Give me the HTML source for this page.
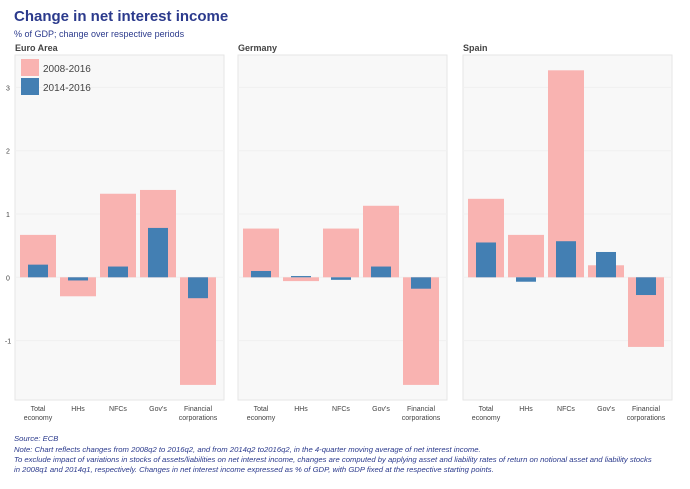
<!DOCTYPE html>
<html><head><meta charset="utf-8"><style>
body{margin:0;background:#fff;font-family:"Liberation Sans",sans-serif;}
svg text{font-family:"Liberation Sans",sans-serif;}
</style></head><body>
<svg width="690" height="484" xmlns="http://www.w3.org/2000/svg" id="chart">
<text x="14" y="21" font-size="15" font-weight="bold" fill="#2b3a8c">Change in net interest income</text>
<text x="14" y="37" font-size="9" fill="#2b3a8c">% of GDP; change over respective periods</text>
<g id="panels"></g>
<g font-size="7.7" font-style="italic" fill="#2b3a8c">
<text x="14" y="441">Source: ECB</text>
<text x="14" y="452">Note: Chart reflects changes from 2008q2 to 2016q2, and from 2014q2 to2016q2, in the 4-quarter moving average of net interest income.</text>
<text x="14" y="462">To exclude impact of variations in  stocks of assets/liabilities on net interest income, changes are computed by applying asset and liability rates of return on notional asset and liability stocks</text>
<text x="14" y="472">in 2008q1 and 2014q1, respectively. Changes in net interest income expressed as % of GDP, with GDP fixed at the respective starting points.</text>
</g>
</svg>
<script>
const categories=["Total economy","HHs","NFCs","Gov's","Financial corporations"];
const panelNames=["Euro Area","Germany","Spain"];
const long2008=[[0.67,-0.3,1.32,1.38,-1.7],[0.77,-0.06,0.77,1.13,-1.7],[1.24,0.67,3.27,0.19,-1.1]];
const short2014=[[0.2,-0.05,0.17,0.78,-0.33],[0.1,0.02,-0.04,0.17,-0.18],[0.55,-0.07,0.57,0.4,-0.28]];
const yTicks=[-1,0,1,2,3];
const NS="http://www.w3.org/2000/svg";
const g=document.getElementById('panels');
const panelLeft=[15,238,463],panelW=209,top0=55,bot0=400;
function y(v){return 277.3-v*63.3;}
function x(pi,ci){return panelLeft[pi]+23+ci*40;}
function mk(tag,attrs,parent){const e=document.createElementNS(NS,tag);for(const k in attrs)e.setAttribute(k,attrs[k]);(parent||g).appendChild(e);return e;}
yTicks.forEach(t=>{const e=mk('text',{x:8,y:y(t)+3,'font-size':7,fill:'#444','text-anchor':'middle'});e.textContent=t;

});
panelNames.forEach((n,pi)=>{
 const L=panelLeft[pi];
 const t=mk('text',{x:L,y:51,'font-size':9,'font-weight':'bold',fill:'#444'});t.textContent=n;
 
 
 const r=mk('rect',{x:L,y:top0,width:panelW,height:bot0-top0,fill:'#f8f8f8',stroke:'#e6e6e6'});
 
 
 yTicks.forEach(tv=>{const l=mk('line',{x1:L,x2:L+panelW,y1:y(tv),y2:y(tv),stroke:'#f0f0f0'});
 
 });
 categories.forEach((c,ci)=>{
  const cx=x(pi,ci);
  const v=long2008[pi][ci];
  const b=mk('rect',{x:cx-18,y:Math.min(y(v),y(0)),width:36,height:Math.abs(y(v)-y(0)),fill:'#f9b3b1'});
  
  
  const s=short2014[pi][ci];
  const b2=mk('rect',{x:cx-10,y:Math.min(y(s),y(0)),width:20,height:Math.max(1,Math.abs(y(s)-y(0))),fill:'#437fb3'});
  
  
  const words=c.split(' ');
  words.forEach((w,wi)=>{const tx=mk('text',{x:cx,y:411+wi*9,'font-size':7,fill:'#444','text-anchor':'middle'});tx.textContent=w;
  
  });
 });
});
const lg=mk('g',{});


mk('rect',{x:21,y:59,width:18,height:17,fill:'#f9b3b1'},lg);
mk('rect',{x:21,y:78,width:18,height:17,fill:'#437fb3'},lg);
const l1=mk('text',{x:43,y:72,'font-size':10,fill:'#444'},lg);l1.textContent='2008-2016';


const l2=mk('text',{x:43,y:91,'font-size':10,fill:'#444'},lg);l2.textContent='2014-2016';


</script>
</body></html>
